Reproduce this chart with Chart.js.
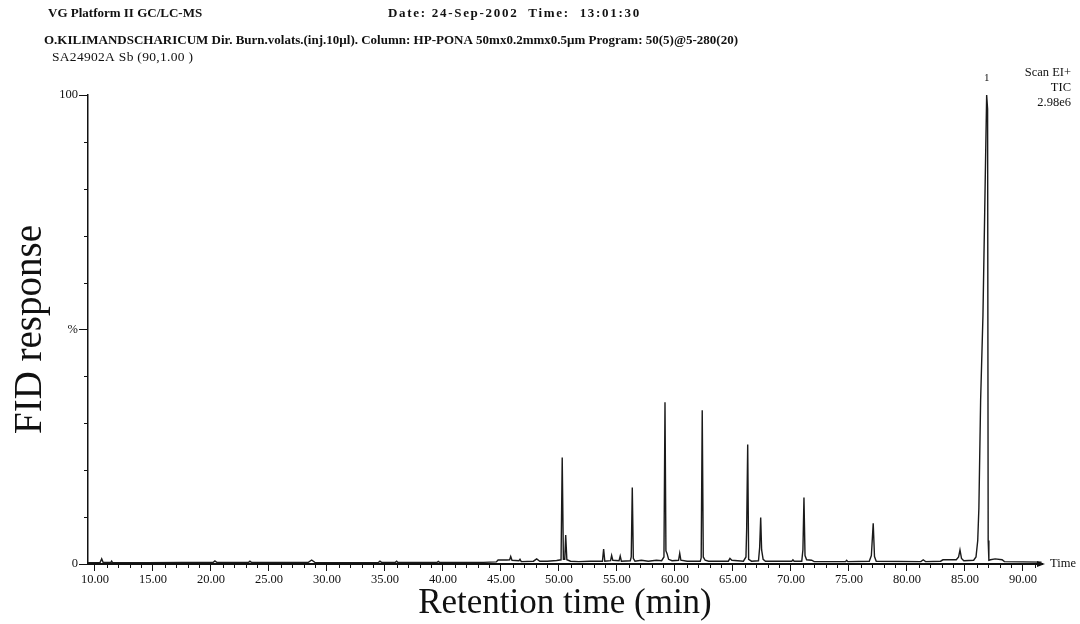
<!DOCTYPE html>
<html>
<head>
<meta charset="utf-8">
<script src="https://cdn.jsdelivr.net/npm/chart.js@4.4.1/dist/chart.umd.min.js"></script>
<style>
  body { margin: 0; background: #fff; }
  #wrap { width: 1080px; height: 624px; }
</style>
</head>
<body>
<div id="wrap"><canvas id="mycanvas" width="1080" height="624"></canvas></div>
<script>
// retention time (min) and relative response (%)
var retTime = [
  9.4, 10.45, 10.58, 10.7, 11.38, 11.44, 11.5, 14.5, 17.5, 20.2, 20.34, 20.5,
  23.25, 23.36, 23.48, 28.4, 28.68, 28.95, 32.0, 34.45, 34.57, 34.7, 35.9, 36.0, 36.1,
  39.5, 39.6, 39.7, 43.5, 44.6, 44.75, 45.5, 45.75, 45.84, 45.95, 46.55, 46.64, 46.75,
  47.8, 48.08, 48.35, 49.0, 49.8, 50.18, 50.28, 50.38, 50.5, 50.58, 50.68, 51.0, 51.7,
  52.7, 53.75, 53.85, 53.95, 54.45, 54.54, 54.64, 55.18, 55.28, 55.38, 56.15, 56.23,
  56.32, 56.41, 56.55, 57.1, 57.7, 58.4, 58.85, 59.05, 59.14, 59.22, 59.32, 59.45, 59.75,
  60.31, 60.41, 60.51, 61.05, 62.18, 62.26, 62.35, 62.44, 62.6, 62.9, 64.6, 64.74, 64.9,
  65.9, 66.12, 66.18, 66.27, 66.35, 66.6, 67.2, 67.3, 67.39, 67.47, 67.6, 67.8,
  70.07, 70.17, 70.27, 70.93, 71.03, 71.12, 71.21, 71.35, 71.78, 72.0, 74.7, 74.8, 74.9,
  76.75, 76.93, 77.09, 77.2, 77.35, 81.2, 81.4, 81.6, 82.9, 83.1, 84.25, 84.45, 84.57,
  84.7, 84.9, 85.75, 85.95, 86.1, 86.2, 86.35, 86.55, 86.7, 86.8, 86.87, 86.95, 87.0,
  87.06, 87.2, 87.6, 88.2, 88.4, 91.6
];
var response = [
  0.3, 0.35, 1.1, 0.35, 0.35, 0.6, 0.35, 0.3, 0.35, 0.35, 0.65, 0.35,
  0.35, 0.6, 0.35, 0.35, 0.85, 0.35, 0.3, 0.35, 0.6, 0.35, 0.35, 0.6, 0.35,
  0.35, 0.55, 0.35, 0.35, 0.45, 0.85, 0.85, 0.9, 1.6, 0.8, 0.7, 1.0, 0.5,
  0.6, 1.1, 0.6, 0.6, 0.75, 0.9, 22.7, 1.0, 1.0, 6.2, 0.9, 0.6, 0.5,
  0.6, 0.6, 3.2, 0.6, 0.7, 1.8, 0.8, 0.7, 1.7, 0.6, 0.7, 1.5,
  16.3, 1.2, 0.6, 0.8, 0.6, 0.8, 0.7, 1.5, 34.5, 2.8, 2.2, 1.0, 0.7,
  0.8, 2.3, 0.8, 0.6, 0.6, 1.3, 32.8, 1.5, 0.8, 0.6, 0.6, 1.2, 0.8,
  0.6, 1.5, 7.4, 25.5, 1.0, 0.6, 0.7, 3.5, 9.9, 3.0, 1.0, 0.6,
  0.6, 0.9, 0.6, 0.6, 3.0, 14.2, 1.8, 0.9, 0.8, 0.5, 0.5, 0.8, 0.5,
  0.6, 1.8, 8.7, 1.6, 0.6, 0.5, 0.9, 0.5, 0.6, 0.9, 0.9, 1.5, 3.0,
  1.2, 0.7, 0.8, 1.5, 5, 12, 35, 53, 75, 90, 100, 97, 5,
  0.8, 0.9, 1.1, 0.9, 0.5, 0.4
];
var xTicksMajor = [10, 15, 20, 25, 30, 35, 40, 45, 50, 55, 60, 65, 70, 75, 80, 85, 90];
var yTickLabels = { 0: '0', 50: '%', 100: '100' };

var headerLines = [
  { text: 'VG Platform II GC/LC-MS', x: 48, y: 14, bold: true, size: 13, spacing: 0 },
  { text: 'Date: 24-Sep-2002  Time:  13:01:30', x: 388, y: 14, bold: true, size: 13, spacing: 1.7 },
  { text: 'O.KILIMANDSCHARICUM Dir. Burn.volats.(inj.10\u00b5l). Column: HP-PONA 50mx0.2mmx0.5\u00b5m Program: 50(5)@5-280(20)', x: 44, y: 41, bold: true, size: 13, spacing: 0 },
  { text: 'SA24902A Sb (90,1.00 )', x: 52, y: 57, bold: false, size: 13.5, spacing: 0.3 }
];
var infoLines = ['Scan EI+', 'TIC', '2.98e6'];

var INK = '#111';
var SERIF = "'Liberation Serif', 'DejaVu Serif', serif";

var decor = {
  id: 'decor',
  afterDraw: function(chart) {
    var ctx = chart.ctx;
    var xs = chart.scales.x, ys = chart.scales.y;
    var a = chart.chartArea;
    ctx.save();
    ctx.strokeStyle = INK;
    ctx.lineWidth = 1;
    // minor ticks on time axis
    for (var v = 10; v <= 91; v++) {
      if (v % 5 === 0) continue;
      var px = Math.round(xs.getPixelForValue(v)) + 0.5;
      ctx.beginPath(); ctx.moveTo(px, a.bottom); ctx.lineTo(px, a.bottom + 4); ctx.stroke();
    }
    // minor ticks on response axis
    for (var w = 10; w < 100; w += 10) {
      if (w === 50) continue;
      var py = Math.round(ys.getPixelForValue(w)) + 0.5;
      ctx.beginPath(); ctx.moveTo(a.left - 4, py); ctx.lineTo(a.left, py); ctx.stroke();
    }
    // arrow head at end of time axis
    ctx.fillStyle = INK;
    ctx.beginPath();
    ctx.moveTo(a.right + 3, a.bottom);
    ctx.lineTo(a.right - 5, a.bottom - 3);
    ctx.lineTo(a.right - 5, a.bottom + 3);
    ctx.closePath(); ctx.fill();

    ctx.textBaseline = 'middle';
    ctx.fillStyle = INK;
    ctx.font = '12.5px ' + SERIF;
    ctx.textAlign = 'left';
    ctx.fillText('Time', a.right + 8, a.bottom);

    headerLines.forEach(function(h) {
      ctx.font = (h.bold ? 'bold ' : '') + h.size + 'px ' + SERIF;
      ctx.letterSpacing = h.spacing + 'px';
      ctx.fillText(h.text, h.x, h.y);
    });
    ctx.letterSpacing = '0px';

    ctx.font = '12.5px ' + SERIF;
    ctx.textAlign = 'right';
    infoLines.forEach(function(t, i) {
      ctx.fillText(t, 1071, 73 + i * 15);
    });
    ctx.textAlign = 'center';
    ctx.font = '11px ' + SERIF;
    ctx.fillText('1', xs.getPixelForValue(86.87), 78);
    ctx.restore();
  }
};

var ctx = document.getElementById('mycanvas');
var chromGraph = new Chart(ctx, {
  type: 'line',
  data: {
    datasets: [{
      data: retTime.map(function(t, i) { return { x: t, y: response[i] }; }),
      borderColor: '#1a1a1a',
      borderWidth: 1.4,
      pointRadius: 0,
      tension: 0,
      clip: false
    }]
  },
  options: {
    responsive: false,
    animation: false,
    devicePixelRatio: 1,
    layout: { padding: { left: 0, top: 95, right: 38, bottom: 0 } },
    plugins: { legend: { display: false }, tooltip: { enabled: false } },
    scales: {
      x: {
        type: 'linear',
        min: 9.4,
        max: 91.64,
        afterFit: function(s) { s.height = 60; },
        border: { color: INK, width: 2 },
        grid: { drawOnChartArea: false, tickLength: 7, color: INK },
        afterBuildTicks: function(s) { s.ticks = xTicksMajor.map(function(v) { return { value: v }; }); },
        ticks: {
          autoSkip: false, maxRotation: 0, padding: 1, color: INK,
          font: { family: SERIF, size: 12.5 },
          callback: function(v) { return v.toFixed(2); }
        },
        title: {
          display: true, text: 'Retention time (min)', color: INK,
          font: { family: SERIF, size: 35, lineHeight: 1 },
          padding: { top: 0, bottom: 3 }
        }
      },
      y: {
        min: 0,
        max: 100,
        afterFit: function(s) { s.width = 88; },
        border: { color: INK, width: 1.5 },
        grid: {
          drawOnChartArea: false, tickLength: 9,
          color: function(c) { return (c.tick && yTickLabels[c.tick.value] !== undefined) ? INK : 'rgba(0,0,0,0)'; }
        },
        ticks: {
          stepSize: 10, padding: 1, color: INK,
          font: { family: SERIF, size: 12.5 },
          callback: function(v) { return yTickLabels[v] !== undefined ? yTickLabels[v] : ''; }
        },
        title: {
          display: true, text: 'FID response', color: INK,
          font: { family: SERIF, size: 39, lineHeight: 1 },
          padding: { top: 11, bottom: 0 }
        }
      }
    }
  },
  plugins: [decor]
});
</script>
</body>
</html>
